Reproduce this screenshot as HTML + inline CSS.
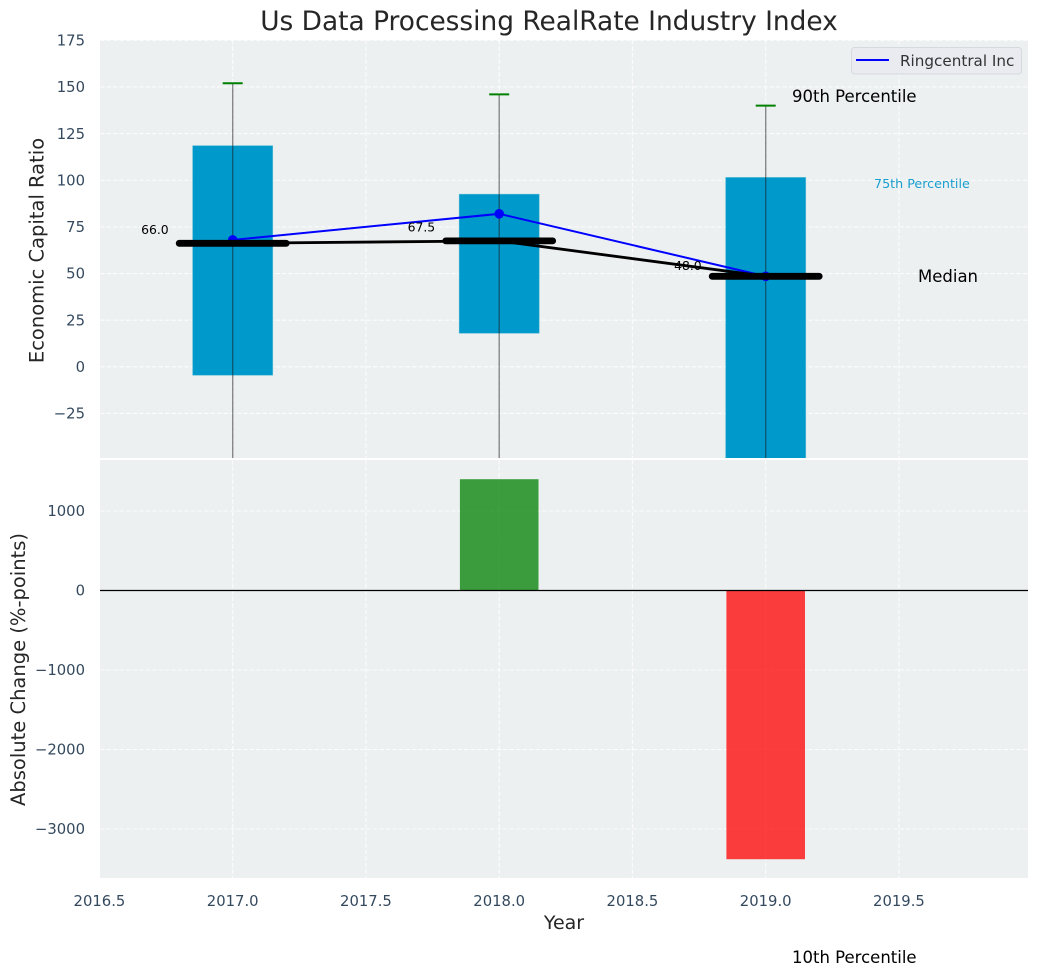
<!DOCTYPE html>
<html>
<head>
<meta charset="utf-8">
<style>
html,body{margin:0;padding:0;background:#fff;}
svg{display:block;font-family:"DejaVu Sans","Liberation Sans",sans-serif;}
</style>
</head>
<body>
<svg id="chart" width="1039" height="976" viewBox="0 0 1039 976" xmlns="http://www.w3.org/2000/svg"></svg>
<script>
const years = [2017, 2018, 2019];
const p90 = [152, 146, 140];
const p75 = [118.5, 92.5, 101.5];
const medians = [66.2, 67.5, 48.5];
const medianLabels = ['66.0', '67.5', '48.0'];
const p25 = [-4.5, 18, -90];
const p10 = [-70, -70, -316];
const company = [68, 82, 48.5];
const changes = [0, 1400, -3380];
const xTicks = [2016.5, 2017.0, 2017.5, 2018.0, 2018.5, 2019.0, 2019.5];
const topTicks = [175, 150, 125, 100, 75, 50, 25, 0, -25];
const bottomTicks = [1000, 0, -1000, -2000, -3000];
const legendLabel = 'Ringcentral Inc';

const NS = 'http://www.w3.org/2000/svg';
const svg = document.getElementById('chart');
const L = 100, R = 1028, T1 = 40, B1 = 458, T2 = 460, B2 = 878;
const sx = v => 232.7 + (v - 2017) * 266.5;
const sy1 = v => 366.8 - v * 1.8656;
const sy2 = v => 590.5 - v * 0.0795;
const fmt = v => String(v).replace('-', '\u2212');

function mk(tag, attrs, parent) {
  const el = document.createElementNS(NS, tag);
  for (const k in attrs) el.setAttribute(k, attrs[k]);
  (parent || svg).appendChild(el);
  return el;
}
function label(str, x, y, size, fill, anchor, parent) {
  const el = mk('text', {x: x, y: y, 'font-size': size, fill: fill, 'text-anchor': anchor || 'start'}, parent);
  el.textContent = str;
  return el;
}

const defs = mk('defs', {});
const cp1 = mk('clipPath', {id: 'clip-top'}, defs);
mk('rect', {x: L, y: T1, width: R - L, height: B1 - T1}, cp1);
const cp2 = mk('clipPath', {id: 'clip-bottom'}, defs);
mk('rect', {x: L, y: T2, width: R - L, height: B2 - T2}, cp2);

const bg1 = mk('rect', {x: L, y: T1, width: R - L, height: B1 - T1, fill: '#ecf0f1'});


const bg2 = mk('rect', {x: L, y: T2, width: R - L, height: B2 - T2, fill: '#ecf0f1'});



const gridStyle = {stroke: '#ffffff', 'stroke-width': 1.1, 'stroke-dasharray': '4.5 2', opacity: 0.85};
xTicks.forEach(t => {
  const a = mk('line', Object.assign({x1: sx(t), x2: sx(t), y1: T1, y2: B1}, gridStyle));
  
  
  const b = mk('line', Object.assign({x1: sx(t), x2: sx(t), y1: T2, y2: B2}, gridStyle));
  
  
  const tl = label(t.toFixed(1), sx(t), 906, 14.8, '#34495e', 'middle');
  
  
});
topTicks.forEach(t => {
  const g = mk('line', Object.assign({x1: L, x2: R, y1: sy1(t), y2: sy1(t)}, gridStyle));
  
  
  const tl = label(fmt(t), 85, sy1(t) + 5.2, 14.8, '#34495e', 'end');
  
  
});
bottomTicks.forEach(t => {
  const g = mk('line', Object.assign({x1: L, x2: R, y1: sy2(t), y2: sy2(t)}, gridStyle));
  
  
  const tl = label(fmt(t), 85, sy2(t) + 5.2, 14.8, '#34495e', 'end');
  
  
});

const topGroup = mk('g', {'clip-path': 'url(#clip-top)'});


const bottomGroup = mk('g', {'clip-path': 'url(#clip-bottom)'});



const halfBar = 0.15;
years.forEach((yr, i) => {
  const bar = mk('rect', {
    x: sx(yr - halfBar), width: sx(yr + halfBar) - sx(yr - halfBar),
    y: sy1(p75[i]), height: sy1(p25[i]) - sy1(p75[i]),
    fill: '#0099cc', stroke: '#33adc9', 'stroke-opacity': 0.5, 'stroke-width': 0.8
  }, topGroup);
  
  
  const whisker = mk('line', {
    x1: sx(yr), x2: sx(yr), y1: sy1(p90[i]), y2: sy1(p10[i]),
    stroke: '#1a1a1a', 'stroke-opacity': 0.5, 'stroke-width': 1.4
  }, topGroup);
  
  
  const cap = mk('line', {
    x1: sx(yr) - 10, x2: sx(yr) + 10, y1: sy1(p90[i]), y2: sy1(p90[i]),
    stroke: '#008000', 'stroke-width': 2
  }, topGroup);
  
  
});

const blueLine = mk('polyline', {
  points: years.map((yr, i) => sx(yr) + ',' + sy1(company[i])).join(' '),
  fill: 'none', stroke: '#0000ff', 'stroke-width': 2
}, topGroup);


years.forEach((yr, i) => {
  const dot = mk('circle', {cx: sx(yr), cy: sy1(company[i]), r: 4.8, fill: '#0000ff'}, topGroup);
  
  
});

const medLine = mk('polyline', {
  points: years.map((yr, i) => sx(yr) + ',' + sy1(medians[i])).join(' '),
  fill: 'none', stroke: '#000000', 'stroke-width': 2.8
}, topGroup);


years.forEach((yr, i) => {
  const m = mk('line', {
    x1: sx(yr) - 53.5, x2: sx(yr) + 53.5, y1: sy1(medians[i]), y2: sy1(medians[i]),
    stroke: '#000000', 'stroke-width': 6.8, 'stroke-linecap': 'round'
  }, topGroup);
  
  
  const t = label(medianLabels[i], sx(yr) - 64, sy1(medians[i]) - (i === 2 ? 6.3 : 9.5), 12.4, '#000000', 'end');
  
  
});

years.forEach((yr, i) => {
  if (changes[i] === 0) return;
  const top = sy2(Math.max(changes[i], 0));
  const bot = sy2(Math.min(changes[i], 0));
  const bar = mk('rect', {
    x: sx(yr) - 39.3, width: 78.6, y: top, height: bot - top,
    fill: changes[i] > 0 ? '#008000' : '#ff0000', 'fill-opacity': 0.75
  }, bottomGroup);
  
  
});
const zero = mk('line', {x1: L, x2: R, y1: sy2(0), y2: sy2(0), stroke: '#000000', 'stroke-width': 1.3});



const title = label('Us Data Processing RealRate Industry Index', 549, 30, 26.4, '#262626', 'middle');


const xTitle = label('Year', 564, 929, 19, '#262626', 'middle');


const yTop = label('Economic Capital Ratio', 0, 0, 19.5, '#262626', 'middle');
yTop.setAttribute('transform', 'translate(43.5 250.5) rotate(-90)');


const yBottom = label('Absolute Change (%-points)', 0, 0, 19.5, '#262626', 'middle');
yBottom.setAttribute('transform', 'translate(25 669.5) rotate(-90)');



const p90Note = label('90th Percentile', 792, 102, 16.5, '#000000');


const p75Note = label('75th Percentile', 874, 188, 12.7, '#1a9fcf');


const medNote = label('Median', 918, 282, 16.5, '#000000');


const p10Note = label('10th Percentile', 792, 963, 16.5, '#000000');



const legend = mk('g', {});


const legendBox = mk('rect', {x: 851.5, y: 47.5, width: 170, height: 26.5, rx: 3, fill: '#e9ebf1', stroke: '#d6d9de', 'stroke-width': 1}, legend);


const legendLine = mk('line', {x1: 856, x2: 889, y1: 60, y2: 60, stroke: '#0000ff', 'stroke-width': 2}, legend);


const legendText = label(legendLabel, 900, 66, 15.2, '#333333', 'start', legend);


</script>
</body>
</html>
